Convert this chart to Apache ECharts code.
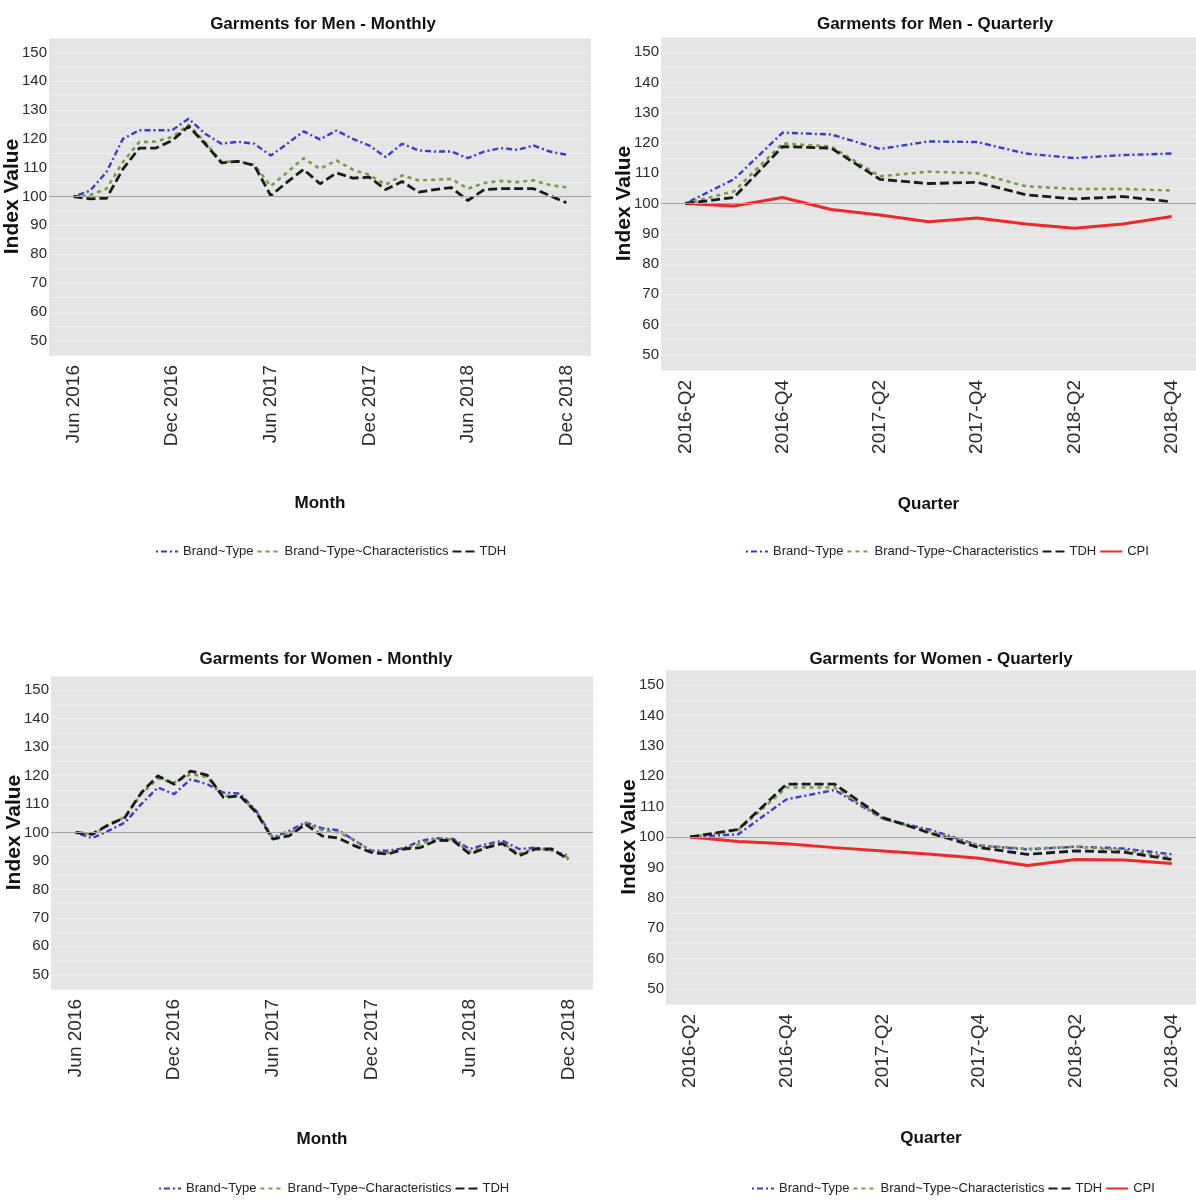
<!DOCTYPE html>
<html>
<head>
    <meta charset="utf-8">
    <title>Garments price indices</title>
    <script src="https://cdn.jsdelivr.net/npm/echarts@6.0.0/dist/echarts.min.js"></script>
    <style>
        html, body {
            margin: 0;
            padding: 0;
            background: #fff;
        }
        #main {
            width: 1196px;
            height: 1201px;
        }
    </style>
</head>
<body>
<div id="main"></div>
<script>
    // categories
    var months = ['Jun 2016', 'Jul 2016', 'Aug 2016', 'Sep 2016', 'Oct 2016', 'Nov 2016', 'Dec 2016',
        'Jan 2017', 'Feb 2017', 'Mar 2017', 'Apr 2017', 'May 2017', 'Jun 2017', 'Jul 2017', 'Aug 2017',
        'Sep 2017', 'Oct 2017', 'Nov 2017', 'Dec 2017', 'Jan 2018', 'Feb 2018', 'Mar 2018', 'Apr 2018',
        'May 2018', 'Jun 2018', 'Jul 2018', 'Aug 2018', 'Sep 2018', 'Oct 2018', 'Nov 2018', 'Dec 2018'];
    var quarters = ['2016-Q2', '2016-Q3', '2016-Q4', '2017-Q1', '2017-Q2', '2017-Q3', '2017-Q4',
        '2018-Q1', '2018-Q2', '2018-Q3', '2018-Q4'];
    // tick positions (index into the category lists)
    var monthTicks = [0, 6, 12, 18, 24, 30];
    var quarterTicks = [0, 2, 4, 6, 8, 10];
    var yTicks = [50, 60, 70, 80, 90, 100, 110, 120, 130, 140, 150];

    // Garments for Men - Monthly
    var menMonthlyBrandType = [100, 102, 108.5, 120, 123, 123, 123, 127, 121.8, 118.3, 119, 118.3, 114.2, 118.3, 122.6,
        119.8, 122.9, 120, 117.7, 113.7, 118.3, 116, 115.6, 115.6, 113.3, 115.6, 116.8, 116.2, 117.7, 115.6, 114.5];
    var menMonthlyBTC = [100, 100.5, 102.7, 112, 118.9, 119.1, 120.6, 124.9, 118.9, 112, 112.2, 111, 103.6, 108.4, 113.3,
        109.6, 112.5, 109.3, 107.5, 104.1, 107.3, 105.6, 105.8, 106.1, 102.7, 104.7, 105.4, 105, 105.6, 104, 103.2];
    var menMonthlyTDH = [100, 99.2, 99.4, 109.5, 116.8, 116.8, 119.4, 124.4, 118.3, 111.7, 112.2, 110.8, 100.3, 105, 109.4,
        104.4, 108.2, 106.4, 106.7, 102.4, 105.2, 101.5, 102.4, 103.1, 98.6, 102.4, 102.7, 102.7, 102.7, 100.3, 97.8];

    // Garments for Men - Quarterly
    var menQuarterlyBrandType = [100, 108, 123.4, 122.8, 118, 120.5, 120.3, 116.5, 115, 116, 116.5];
    var menQuarterlyBTC = [100, 104, 119.8, 118.8, 109, 110.5, 110, 105.7, 104.8, 104.8, 104.3];
    var menQuarterlyTDH = [100, 102, 118.8, 118.3, 108, 106.6, 107, 102.9, 101.5, 102.3, 100.6];
    var menQuarterlyCPI = [100, 99.2, 102, 98, 96.2, 94, 95.2, 93.2, 91.8, 93.2, 95.7];

    // Garments for Women - Monthly
    var womenMonthlyBrandType = [100, 98, 100.6, 103.5, 110, 115.8, 113.5, 118.7, 117, 114, 113.7, 107.6, 98.2, 100.6, 103.5,
        101.5, 100.8, 97.1, 93.6, 93.6, 94.5, 97.1, 98, 97.7, 94.2, 95.9, 97.1, 94.2, 94.7, 93.6, 91.8];
    var womenMonthlyBTC = [100, 99.2, 102.5, 105.5, 113.5, 119, 117.5, 120.5, 119.5, 112.8, 113, 107.3, 98, 99.5, 103.2,
        100.8, 100, 97.3, 93.3, 92.8, 94.5, 96, 97.8, 97.5, 93.2, 95.2, 96.3, 92.5, 94.5, 93.8, 91];
    var womenMonthlyTDH = [100, 99.4, 102.7, 105.3, 114, 119.9, 117, 121.6, 120.2, 112.3, 112.9, 107, 97.7, 98.8, 102.9,
        98.8, 98, 95.3, 93, 92.4, 94.2, 94.7, 97.3, 97.1, 92.4, 94.7, 96.1, 91.8, 94.2, 94.2, 90.6];

    // Garments for Women - Quarterly
    var womenQuarterlyBrandType = [100, 100.9, 112.4, 115.5, 106, 102.3, 97.2, 95.9, 96.8, 96.2, 94.3];
    var womenQuarterlyBTC = [100, 102.3, 116.3, 116.3, 106, 101.7, 97.2, 96.1, 96.8, 95.7, 93.2];
    var womenQuarterlyTDH = [100, 102.5, 117.4, 117.4, 106.4, 101.2, 96.5, 94.3, 95.4, 95, 92.6];
    var womenQuarterlyCPI = [100, 98.5, 97.8, 96.5, 95.4, 94.3, 93, 90.6, 92.6, 92.4, 91.3];

    var SANS = '"Liberation Sans", Arial, sans-serif';

    var styles = {
        'Brand~Type': {color: '#3a3ad2', width: 2.4, type: [2, 3, 6, 3]},
        'Brand~Type~Characteristics': {color: '#7d9a48', width: 2.6, type: [4, 4]},
        'TDH': {color: '#1a1a1a', width: 2.8, type: [9, 4]},
        'CPI': {color: '#ec2828', width: 3, type: 'solid'}
    };

    // panel boxes, same order as the titles below
    var panels = [
        {left: 49, top: 38, width: 542, height: 317, n: months.length, ticks: monthTicks, labels: months, xName: 'Month', nameGap: 140},
        {left: 661, top: 37, width: 540, height: 333, n: quarters.length, ticks: quarterTicks, labels: quarters, xName: 'Quarter', nameGap: 126},
        {left: 51, top: 676, width: 542, height: 313, n: months.length, ticks: monthTicks, labels: months, xName: 'Month', nameGap: 142},
        {left: 666, top: 670, width: 542, height: 334, n: quarters.length, ticks: quarterTicks, labels: quarters, xName: 'Quarter', nameGap: 126}
    ];

    function lineSeries(name, values, panel, withRef) {
        var s = {
            name: name,
            type: 'line',
            xAxisIndex: panel,
            yAxisIndex: panel,
            data: values.map(function (v, i) { return [i, v]; }),
            symbol: 'none',
            silent: true,
            z: name === 'CPI' ? 3 : 4,
            lineStyle: styles[name],
            itemStyle: {color: styles[name].color}
        };
        if (withRef) {
            // horizontal reference line at 100
            s.markLine = {
                silent: true,
                symbol: 'none',
                label: {show: false},
                lineStyle: {color: '#a3a3a3', width: 1, type: 'solid'},
                data: [{yAxis: 100}]
            };
        }
        return s;
    }

    var series = [
        lineSeries('Brand~Type', menMonthlyBrandType, 0, true),
        lineSeries('Brand~Type~Characteristics', menMonthlyBTC, 0),
        lineSeries('TDH', menMonthlyTDH, 0),

        lineSeries('CPI', menQuarterlyCPI, 1, true),
        lineSeries('Brand~Type', menQuarterlyBrandType, 1),
        lineSeries('Brand~Type~Characteristics', menQuarterlyBTC, 1),
        lineSeries('TDH', menQuarterlyTDH, 1),

        lineSeries('Brand~Type', womenMonthlyBrandType, 2, true),
        lineSeries('Brand~Type~Characteristics', womenMonthlyBTC, 2),
        lineSeries('TDH', womenMonthlyTDH, 2),

        lineSeries('CPI', womenQuarterlyCPI, 3, true),
        lineSeries('Brand~Type', womenQuarterlyBrandType, 3),
        lineSeries('Brand~Type~Characteristics', womenQuarterlyBTC, 3),
        lineSeries('TDH', womenQuarterlyTDH, 3)
    ];

    var grids = [], xAxes = [], yAxes = [];
    panels.forEach(function (p) {
        grids.push({
            left: p.left, top: p.top, width: p.width, height: p.height,
            show: true, backgroundColor: '#e5e5e5', borderWidth: 0
        });
        xAxes.push({
            type: 'value',
            gridIndex: grids.length - 1,
            min: -1.5 * (p.n - 1) / 30,
            max: (p.n - 1) + 1.5 * (p.n - 1) / 30,
            axisLine: {show: false},
            axisTick: {show: false},
            splitLine: {show: false},
            axisLabel: {
                customValues: p.ticks,
                rotate: 90,
                margin: 10,
                fontFamily: SANS,
                fontSize: 19,
                color: '#2b2b2b',
                formatter: (function (labels) {
                    return function (v) { return labels[Math.round(v)] || ''; };
                })(p.labels)
            },
            name: p.xName,
            nameLocation: 'middle',
            nameGap: p.nameGap,
            nameMoveOverlap: false,
            nameTextStyle: {fontFamily: SANS, fontWeight: 'bold', fontSize: 17, color: '#111'}
        });
        yAxes.push({
            type: 'value',
            gridIndex: grids.length - 1,
            min: 45,
            max: 155,
            interval: 5,
            axisLine: {show: false},
            axisTick: {show: false},
            splitLine: {show: true, lineStyle: {color: '#efefef', width: 1}},
            axisLabel: {
                margin: 2,
                fontFamily: SANS,
                fontSize: 15,
                color: '#2b2b2b',
                formatter: function (v) { return yTicks.indexOf(v) >= 0 ? String(v) : ''; }
            },
            name: 'Index Value',
            nameLocation: 'middle',
            nameGap: 26,
            nameMoveOverlap: false,
            nameTextStyle: {fontFamily: SANS, fontWeight: 'bold', fontSize: 21, color: '#111'}
        });
    });

    function legend(left, top, names) {
        return {
            left: left, top: top,
            orient: 'horizontal',
            itemWidth: 22, itemHeight: 14, itemGap: 3,
            selectedMode: false,
            itemStyle: {opacity: 0},
            textStyle: {fontFamily: SANS, fontSize: 13, color: '#222'},
            data: names
        };
    }

    var titleStyle = {fontFamily: SANS, fontWeight: 'bold', fontSize: 17, color: '#111'};

    var option = {
        animation: false,
        backgroundColor: '#ffffff',
        title: [
            {text: 'Garments for Men - Monthly', left: 318, top: 11, textAlign: 'center', textStyle: titleStyle},
            {text: 'Garments for Men - Quarterly', left: 930, top: 11, textAlign: 'center', textStyle: titleStyle},
            {text: 'Garments for Women - Monthly', left: 321, top: 646, textAlign: 'center', textStyle: titleStyle},
            {text: 'Garments for Women - Quarterly', left: 936, top: 646, textAlign: 'center', textStyle: titleStyle}
        ],
        legend: [
            legend(150, 540, ['Brand~Type', 'Brand~Type~Characteristics', 'TDH']),
            legend(740, 540, ['Brand~Type', 'Brand~Type~Characteristics', 'TDH', 'CPI']),
            legend(153, 1177, ['Brand~Type', 'Brand~Type~Characteristics', 'TDH']),
            legend(746, 1177, ['Brand~Type', 'Brand~Type~Characteristics', 'TDH', 'CPI'])
        ],
        grid: grids,
        xAxis: xAxes,
        yAxis: yAxes,
        series: series
    };

    var chart = echarts.init(document.getElementById('main'), null, {renderer: 'canvas'});
    chart.setOption(option);
</script>
</body>
</html>
